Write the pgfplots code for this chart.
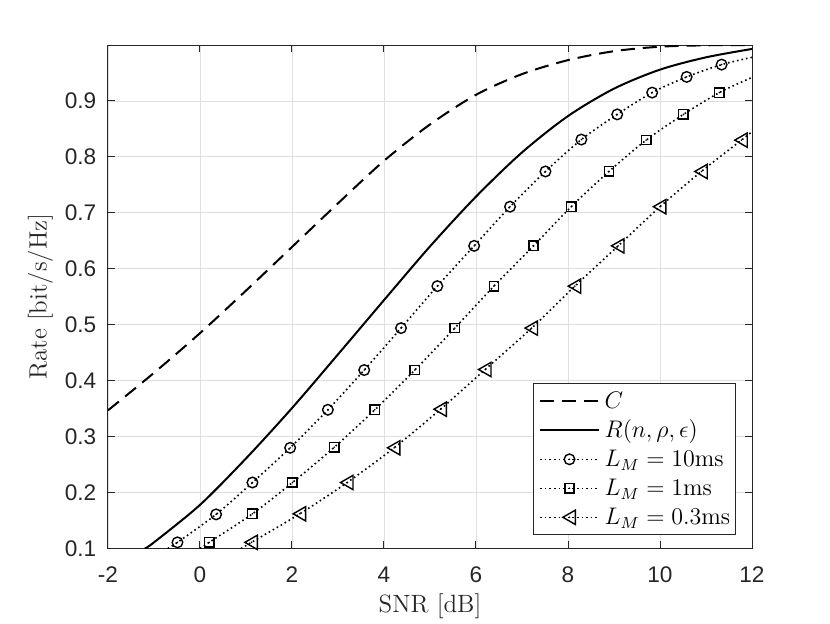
\documentclass[border=0pt]{standalone}
\usepackage{fontspec}
\usepackage{pgfplots}
\usepackage{pgfplotstable}
\pgfplotsset{compat=1.18}
\newfontfamily\tickfont{Liberation Sans}
\definecolor{axc}{RGB}{38,38,38}
\definecolor{gridc}{RGB}{223,223,223}

\pgfdeclareplotmark{ocirc}{%
  \pgfpathcircle{\pgfpointorigin}{\pgfplotmarksize}\pgfusepathqstroke
  \pgfpathcircle{\pgfpointorigin}{0.45pt}\pgfusepathqfill}
\pgfdeclareplotmark{osq}{%
  \pgfpathrectangle{\pgfpoint{-0.88\pgfplotmarksize}{-0.88\pgfplotmarksize}}{\pgfpoint{1.76\pgfplotmarksize}{1.76\pgfplotmarksize}}\pgfusepathqstroke
  \pgfpathcircle{\pgfpointorigin}{0.45pt}\pgfusepathqfill}
\pgfdeclareplotmark{otri}{%
  \pgfpathmoveto{\pgfpoint{-1.25\pgfplotmarksize}{0pt}}%
  \pgfpathlineto{\pgfpoint{1.1\pgfplotmarksize}{1.35\pgfplotmarksize}}%
  \pgfpathlineto{\pgfpoint{1.1\pgfplotmarksize}{-1.35\pgfplotmarksize}}%
  \pgfpathclose\pgfusepathqstroke
  \pgfpathcircle{\pgfpointorigin}{0.45pt}\pgfusepathqfill}

\pgfplotsset{
  lineleg/.style={legend image code/.code={\draw[##1] (0pt,0pt)--(29.2pt,0pt);}},
  dotleg/.style={legend image code/.code={\draw[black, line width=0.8pt, dash pattern=on 0.8pt off 1.5pt] (0pt,0pt)--(29.2pt,0pt); \draw[##1] plot coordinates {(14.6pt,0pt)};}},
  dotline/.style={black, line width=0.8pt, dash pattern=on 0.8pt off 1.5pt, smooth, forget plot},
  markser/.style={black, only marks, mark size=2.65pt, mark options={solid, line width=0.7pt}, dotleg},
}

\pgfplotstableread{
x y
-2 0.347
-1 0.414
0 0.485
1 0.561
2 0.639
3 0.717
4 0.793
5 0.858
6 0.911
7 0.948
8 0.973
9 0.989
10 0.997
11 0.9995
12 1.0
}\capC

\pgfplotstableread{
x y
-1.2 0.100
-1 0.111
0 0.178
1 0.261
2 0.351
3 0.447
4 0.544
5 0.640
6 0.729
7 0.808
8 0.873
9 0.922
10 0.956
11 0.978
12 0.993
}\rateR

% first and last rows: ends of the dotted line (no marker)
\pgfplotstableread{
x y
-0.70 0.100
-0.49 0.111
0.35 0.161
1.14 0.218
1.96 0.280
2.78 0.348
3.57 0.419
4.37 0.494
5.16 0.569
5.96 0.641
6.74 0.711
7.51 0.774
8.29 0.831
9.07 0.876
9.83 0.915
10.58 0.943
11.34 0.965
12.00 0.978
}\lten

\pgfplotstableread{
x y
0.00 0.100
0.20 0.111
1.14 0.162
2.01 0.218
2.92 0.281
3.80 0.348
4.67 0.419
5.54 0.494
6.39 0.569
7.25 0.641
8.07 0.711
8.89 0.774
9.70 0.830
10.51 0.876
11.29 0.915
12.00 0.942
}\lone

\pgfplotstableread{
x y
0.89 0.100
1.12 0.111
2.17 0.162
3.20 0.218
4.22 0.280
5.23 0.349
6.20 0.420
7.21 0.494
8.15 0.569
9.09 0.641
10.00 0.711
10.90 0.774
11.77 0.830
12.00 0.845
}\lthree

\begin{document}
\begin{tikzpicture}
\useasboundingbox (-54pt,-37.25pt) rectangle (361pt,274.25pt);
\begin{axis}[
  at={(0,0)}, anchor=south west,
  scale only axis, width=322pt, height=251.75pt,
  xmin=-2, xmax=12, ymin=0.1, ymax=1,
  xtick={-2,0,2,4,6,8,10,12},
  xticklabels={-2,0,2,4,6,8,10,12},
  ytick={0.1,0.2,0.3,0.4,0.5,0.6,0.7,0.8,0.9},
  yticklabels={0.1,0.2,0.3,0.4,0.5,0.6,0.7,0.8,0.9},
  tick align=inside, major tick length=3.6pt,
  tick style={color=axc, line width=0.5pt},
  axis line style={color=axc, line width=0.5pt},
  grid=major, major grid style={color=gridc, line width=0.45pt},
  xticklabel style={font=\tickfont\fontsize{11.3}{13}\selectfont, text=axc, anchor=center, yshift=-13pt},
  yticklabel style={font=\tickfont\fontsize{11.3}{13}\selectfont, text=axc, anchor=east, inner sep=0pt, xshift=-5.7pt},
  xlabel={SNR [dB]}, ylabel={Rate [bit/s/Hz]},
  label style={font=\fontsize{12.5}{15}\selectfont, text=axc},
  xlabel style={at={(axis description cs:0.5,-0.1267)}, anchor=base},
  ylabel style={at={(axis description cs:-0.0952,0.5)}, anchor=base},
  legend style={at={(1,0)}, anchor=south east, xshift=-7.85pt, yshift=6.6pt,
    draw=axc, line width=0.5pt, fill=white, font=\fontsize{12}{14}\selectfont,
    inner xsep=2.8pt, inner ysep=1.5pt,
    nodes={inner sep=0pt, text height=11pt, text depth=3.5pt},
    column sep=2.5pt, row sep=0pt},
  legend cell align=left,
  lineleg,
]
\addplot[black, line width=1pt, dash pattern=on 7pt off 4pt, smooth] table[x=x,y=y] {\capC};
\addlegendentry{$C$}
\addplot[black, line width=1pt, smooth] table[x=x,y=y] {\rateR};
\addlegendentry{$R(n,\rho,\epsilon)$}

\addplot[dotline] table[x=x,y=y] {\lten};
\addplot[markser, mark=ocirc, skip coords between index={0}{1}, skip coords between index={17}{18}] table[x=x,y=y] {\lten};
\addlegendentry{$L_M=10$ms}

\addplot[dotline] table[x=x,y=y] {\lone};
\addplot[markser, mark=osq, skip coords between index={0}{1}, skip coords between index={15}{16}] table[x=x,y=y] {\lone};
\addlegendentry{$L_M=1$ms}

\addplot[dotline] table[x=x,y=y] {\lthree};
\addplot[markser, mark=otri, skip coords between index={0}{1}, skip coords between index={13}{14}] table[x=x,y=y] {\lthree};
\addlegendentry{$L_M=0.3$ms}
\end{axis}
\end{tikzpicture}
\end{document}
